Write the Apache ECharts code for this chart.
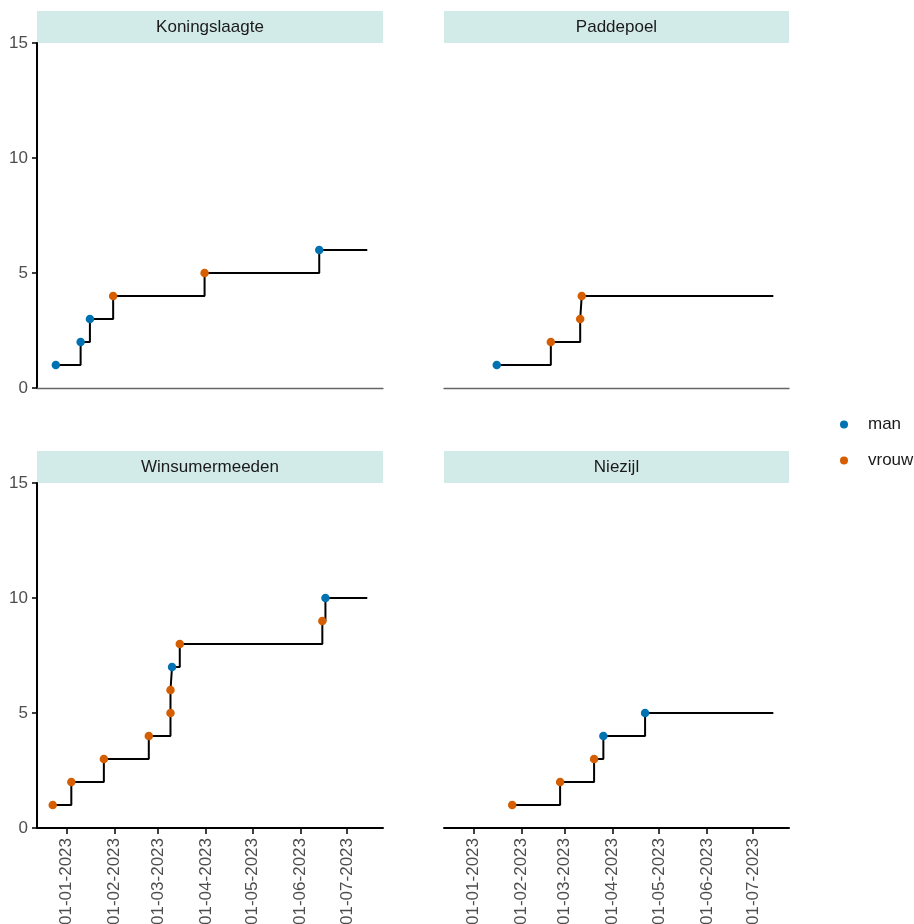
<!DOCTYPE html>
<html><head><meta charset="utf-8">
<script src="https://cdn.jsdelivr.net/npm/echarts@6/dist/echarts.min.js"></script>
<style>html,body{margin:0;padding:0;background:#fff}#c{width:914px;height:924px}</style>
</head><body><div id="c"></div>
<script>
// ---- data ----
const panelNames = ['Koningslaagte', 'Paddepoel', 'Winsumermeeden', 'Niezijl'];

const koningslaagteDates = ['2022-12-25','2023-01-10','2023-01-16','2023-01-31','2023-03-31','2023-06-13'];
const koningslaagteCount = [1, 2, 3, 4, 5, 6];
const koningslaagteSex   = ['man','man','man','vrouw','vrouw','man'];

const paddepoelDates = ['2023-01-16','2023-02-20','2023-03-11','2023-03-12'];
const paddepoelCount = [1, 2, 3, 4];
const paddepoelSex   = ['man','vrouw','vrouw','vrouw'];

const winsumermeedenDates = ['2022-12-23','2023-01-04','2023-01-25','2023-02-23','2023-03-09','2023-03-09','2023-03-10','2023-03-15','2023-06-15','2023-06-17'];
const winsumermeedenCount = [1, 2, 3, 4, 5, 6, 7, 8, 9, 10];
const winsumermeedenSex   = ['vrouw','vrouw','vrouw','vrouw','vrouw','vrouw','man','vrouw','vrouw','man'];

const niezijlDates = ['2023-01-26','2023-02-26','2023-03-20','2023-03-26','2023-04-22'];
const niezijlCount = [1, 2, 3, 4, 5];
const niezijlSex   = ['vrouw','vrouw','vrouw','man','man'];

const endDate = '2023-07-14';
const sexLevels = ['man', 'vrouw'];
const tickDates = ['2023-01-01','2023-02-01','2023-03-01','2023-04-01','2023-05-01','2023-06-01','2023-07-01'];
const yTicks = [0, 5, 10, 15];

// ---- helpers ----
function ts(s) { const p = s.split('-').map(Number); return Date.UTC(p[0], p[1] - 1, p[2]); }
function fmt(v) {
  const d = new Date(v);
  const dd = String(d.getUTCDate()).padStart(2, '0');
  const mm = String(d.getUTCMonth() + 1).padStart(2, '0');
  return dd + '-' + mm + '-' + d.getUTCFullYear();
}

const panels = [
  { dates: koningslaagteDates, count: koningslaagteCount, sex: koningslaagteSex },
  { dates: paddepoelDates, count: paddepoelCount, sex: paddepoelSex },
  { dates: winsumermeedenDates, count: winsumermeedenCount, sex: winsumermeedenSex },
  { dates: niezijlDates, count: niezijlCount, sex: niezijlSex }
];

const allTs = [].concat(...panels.map(p => p.dates.map(ts)), [ts(endDate)]);
const dMin = Math.min(...allTs), dMax = Math.max(...allTs);
const pad = (dMax - dMin) * 0.05;
const xMin = dMin - pad, xMax = dMax + pad;

const colors = { man: '#0072B2', vrouw: '#D55E00' };
const FONT = 'Liberation Sans, Arial, sans-serif';
const FS = 17;

// layout (pixels)
const colLeft = [37, 444], colWidth = [346, 345];
const rowTop = [43, 483], rowHeight = 345;
const stripH = 32;

const grids = [], xAxes = [], yAxes = [], series = [], graphics = [];
panels.forEach((p, i) => {
  const col = i % 2, row = Math.floor(i / 2);
  grids.push({ left: colLeft[col], top: rowTop[row], width: colWidth[col], height: rowHeight,
    containLabel: false, outerBoundsMode: 'none' });
  const bottom = row === 1;
  xAxes.push({
    type: 'value', gridIndex: i, min: xMin, max: xMax,
    splitLine: { show: false },
    axisLine: { show: true, onZero: false, lineStyle: bottom ? { color: '#000', width: 2 } : { color: '#666', width: 1.3 } },
    axisTick: { show: bottom, length: 6, lineStyle: { color: '#000', width: 1.5 }, customValues: tickDates.map(ts) },
    axisLabel: { show: bottom, rotate: 90, margin: 10, fontSize: FS, color: '#4d4d4d', fontFamily: FONT,
      customValues: tickDates.map(ts), formatter: v => fmt(v), hideOverlap: false }
  });
  const left = col === 0;
  yAxes.push({
    type: 'value', gridIndex: i, min: 0, max: 15, interval: 5,
    splitLine: { show: false },
    axisLine: { show: left, lineStyle: { color: '#000', width: 2 } },
    axisTick: { show: left, length: 5, lineStyle: { color: '#000', width: 1.5 } },
    axisLabel: { show: left, margin: 9, fontSize: FS, color: '#4d4d4d', fontFamily: FONT }
  });
  const lineData = p.dates.map((d, k) => [ts(d), p.count[k]]);
  lineData.push([ts(endDate), p.count[p.count.length - 1]]);
  series.push({
    type: 'line', name: 'step-' + panelNames[i], xAxisIndex: i, yAxisIndex: i, step: 'end',
    data: lineData, showSymbol: false, symbol: 'none', silent: true, z: 2,
    lineStyle: { color: '#000', width: 2 }
  });
  sexLevels.forEach(s => {
    const pts = [];
    p.dates.forEach((d, k) => { if (p.sex[k] === s) pts.push([ts(d), p.count[k]]); });
    series.push({
      type: 'scatter', name: s, xAxisIndex: i, yAxisIndex: i, data: pts,
      symbolSize: 8.5, itemStyle: { color: colors[s], opacity: 1 }, z: 3
    });
  });
  // strip
  const sx = colLeft[col], sy = rowTop[row] - stripH, sw = colWidth[col];
  graphics.push({ type: 'rect', left: sx, top: sy, shape: { width: sw, height: stripH }, style: { fill: '#d3ebe8' }, silent: true });
  graphics.push({ type: 'text', x: sx + sw / 2, y: sy + stripH / 2,
    style: { text: panelNames[i], fill: '#1a1a1a', fontSize: FS, fontFamily: FONT, align: 'center', verticalAlign: 'middle' }, silent: true });
});

const chart = echarts.init(document.getElementById('c'), null, { renderer: 'canvas' });
chart.setOption({
  animation: false,
  backgroundColor: '#fff',
  grid: grids, xAxis: xAxes, yAxis: yAxes, series: series, graphic: graphics,
  legend: {
    data: sexLevels, orient: 'vertical', left: 835, top: 411, icon: 'circle',
    itemWidth: 8, itemHeight: 8, itemGap: 19,
    textStyle: { fontSize: FS, color: '#1a1a1a', fontFamily: FONT, padding: [0, 0, 0, 15] },
    selectedMode: false
  }
});
</script></body></html>
